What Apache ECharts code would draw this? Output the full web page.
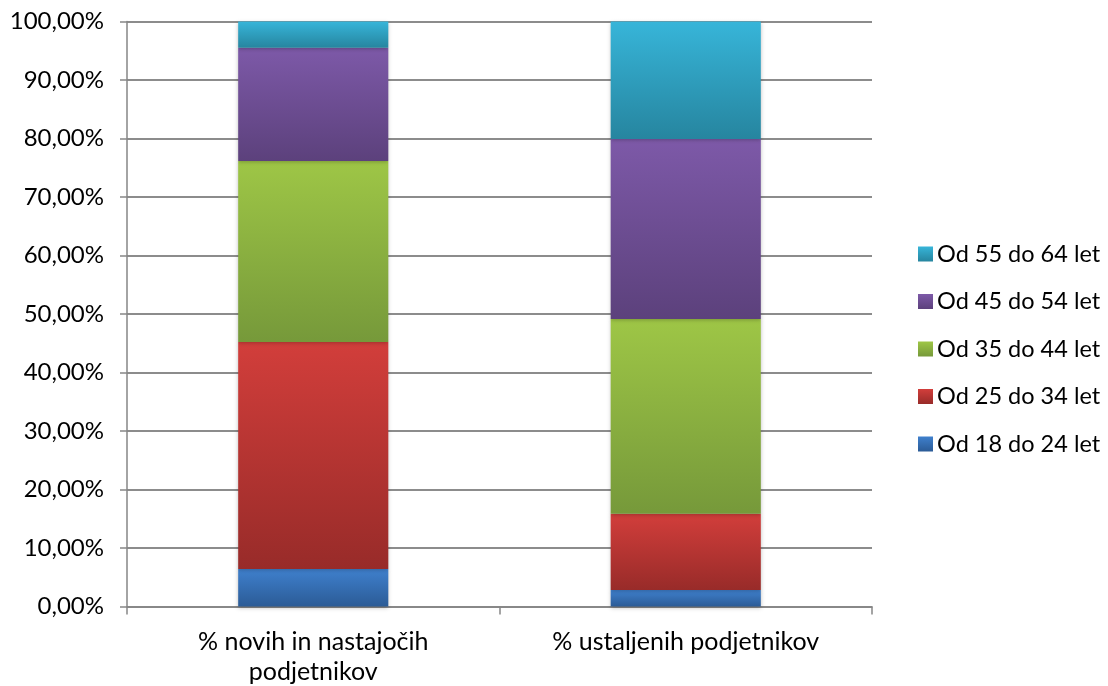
<!DOCTYPE html>
<html>
<head>
<meta charset="utf-8">
<script src="https://cdn.jsdelivr.net/npm/echarts@6/dist/echarts.min.js"></script>
<style>
  html, body { margin: 0; padding: 0; background: #fff; }
  #chart { width: 1108px; height: 686px; }
</style>
</head>
<body>
<div id="chart"></div>
<script>
// Age structure of entrepreneurs (share of each age group, %)
const categories = ['% novih in nastajočih\npodjetnikov', '% ustaljenih podjetnikov'];
const ageGroups = ['Od 18 do 24 let', 'Od 25 do 34 let', 'Od 35 do 44 let', 'Od 45 do 54 let', 'Od 55 do 64 let'];
const age18to24 = [6.4, 2.8];
const age25to34 = [38.8, 13.05];
const age35to44 = [30.95, 33.3];
const age45to54 = [19.35, 30.75];
const age55to64 = [4.5, 20.1];
const yTicks = { min: 0, max: 100, step: 10 };

// top / bottom shades of each segment's vertical gradient
const shades = [
  ['#3f80cd', '#2b5b96'],
  ['#d23e3b', '#982b29'],
  ['#9ec646', '#76993a'],
  ['#7d59a8', '#5c417c'],
  ['#37b5d9', '#26859f']
];

const seriesValues = [age18to24, age25to34, age35to44, age45to54, age55to64];
const font = 'Lato, "Open Sans", sans-serif';

const series = ageGroups.map((name, i) => ({
  name: name,
  type: 'bar',
  stack: 'total',
  barWidth: '40.3%',
  data: seriesValues[i],
  itemStyle: {
    color: {
      type: 'linear', x: 0, y: 0, x2: 0, y2: 1,
      colorStops: [
        { offset: 0, color: shades[i][0] },
        { offset: 1, color: shades[i][1] }
      ]
    },
    shadowBlur: 4,
    shadowColor: 'rgba(0,0,0,0.25)',
    shadowOffsetY: 1
  },
  emphasis: { disabled: true }
}));

const chart = echarts.init(document.getElementById('chart'), null, { renderer: 'canvas' });
chart.setOption({
  animation: false,
  backgroundColor: '#ffffff',
  grid: {
    left: 127, right: 236, top: 21.5, bottom: 79.5,
    containLabel: false, outerBoundsMode: 'none'
  },
  legend: {
    data: ageGroups.slice().reverse(),
    orient: 'vertical',
    left: 913,
    top: 237,
    itemWidth: 15,
    itemHeight: 15,
    itemGap: 23.5,
    icon: 'rect',
    selectedMode: false,
    textStyle: { fontFamily: font, fontSize: 23.5, color: '#000', padding: [0, 0, 0, -1] }
  },
  xAxis: {
    type: 'category',
    data: categories,
    axisLine: { lineStyle: { color: '#868686', width: 1.5 } },
    axisTick: { show: true, length: 8, alignWithLabel: false, lineStyle: { color: '#868686', width: 1.5 } },
    axisLabel: {
      fontFamily: font, fontSize: 25, color: '#000', margin: 20, lineHeight: 30,
      interval: 0
    }
  },
  yAxis: {
    type: 'value',
    min: yTicks.min,
    max: yTicks.max,
    interval: yTicks.step,
    axisLine: { show: true, lineStyle: { color: '#868686', width: 1.5 } },
    axisTick: { show: true, length: 7, lineStyle: { color: '#868686', width: 1.5 } },
    splitLine: { lineStyle: { color: '#8c8c8c', width: 1.8 } },
    axisLabel: {
      fontFamily: font, fontSize: 24, color: '#000', margin: 23,
      formatter: v => v.toFixed(2).replace('.', ',') + '%'
    }
  },
  series: series
});
</script>
</body>
</html>
